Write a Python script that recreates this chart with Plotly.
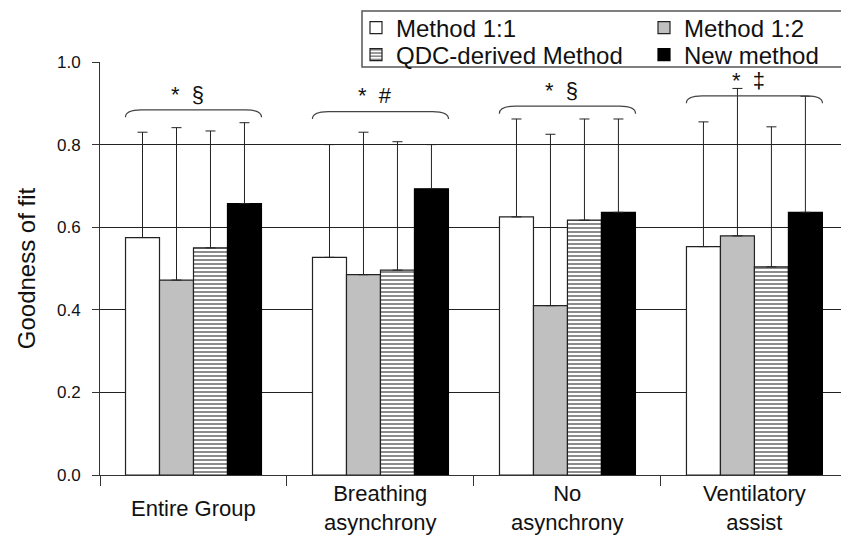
import plotly.graph_objects as go

categories = ["Entire Group", "Breathing<br>asynchrony", "No<br>asynchrony", "Ventilatory<br>assist"]
series_names = ["Method 1:1", "Method 1:2", "QDC-derived Method", "New method"]
method_11 = [0.575, 0.527, 0.625, 0.553]
method_12 = [0.472, 0.485, 0.410, 0.579]
qdc_method = [0.550, 0.496, 0.617, 0.504]
new_method = [0.657, 0.693, 0.636, 0.636]
err_11 = [0.255, 0.273, 0.237, 0.302]
err_12 = [0.369, 0.345, 0.415, 0.357]
err_qdc = [0.283, 0.311, 0.245, 0.339]
err_new = [0.196, 0.107, 0.226, 0.281]
sig_labels = ["*  §", "*  #", "*  §", "*  ‡"]
brace_levels = [0.884, 0.880, 0.893, 0.918]
y_ticks = [0.0, 0.2, 0.4, 0.6, 0.8, 1.0]

values = [method_11, method_12, qdc_method, new_method]
errors = [err_11, err_12, err_qdc, err_new]
legend_ids = ["legend2", "legend3", "legend4", "legend5"]
styles = [
    dict(color="white", line=dict(color="#222", width=1.2)),
    dict(color="#c0c0c0", line=dict(color="#222", width=1.2)),
    dict(color="white", line=dict(color="#222", width=1.2),
         pattern=dict(shape="-", fgcolor="black", bgcolor="white", size=4, solidity=0.45)),
    dict(color="black", line=dict(color="black", width=1.2)),
]

FONT = "Liberation Sans, Arial, sans-serif"
fig = go.Figure()
for name, v, e, st, lg in zip(series_names, values, errors, styles, legend_ids):
    fig.add_trace(go.Bar(
        x=categories, y=v, name=name, marker=st, legend=lg,
        error_y=dict(type="data", array=e, arrayminus=[0]*len(e), symmetric=False,
                     color="#222", thickness=1, width=5),
    ))

bar_half = 0.364
dx = 0.085
dy = 0.018
shapes = []
annotations = []
for i, (lab, lev) in enumerate(zip(sig_labels, brace_levels)):
    x0 = i - bar_half
    x1 = i + bar_half
    path = (f"M {x0},{lev-dy} Q {x0},{lev} {x0+dx},{lev} "
            f"L {x1-dx},{lev} Q {x1},{lev} {x1},{lev-dy}")
    shapes.append(dict(type="path", path=path, xref="x2", yref="y",
                       line=dict(color="#444", width=1.2)))
    annotations.append(dict(x=i - 0.03, y=lev + 0.003, xref="x2", yref="y", text=lab,
                            showarrow=False, yanchor="bottom",
                            font=dict(family=FONT, size=22, color="#111")))

# category labels, vertically centred under each group
for cat in categories:
    annotations.append(dict(x=cat, xref="x", y=-(508 - 475) / 413, yref="paper", text=cat,
                            showarrow=False, yanchor="middle", xanchor="center",
                            font=dict(family=FONT, size=22, color="#111")))

# legend frame (white, hides the top gridline like the reference)
shapes.append(dict(type="rect", xref="paper", yref="paper",
                   x0=(362 - 100) / 741, x1=1.02, y0=(475 - 67) / 413, y1=(475 - 11) / 413,
                   line=dict(color="#555", width=1.5), fillcolor="white", layer="above"))

leg_common = dict(orientation="v", yanchor="middle", xanchor="left",
                  bgcolor="rgba(0,0,0,0)", borderwidth=0,
                  font=dict(family=FONT, size=24, color="#111"),
                  itemwidth=30, tracegroupgap=0)
row1 = (475 - 28) / 413
row2 = (475 - 55) / 413
col1 = (356 - 100) / 741
col2 = (644 - 100) / 741

xr = [-0.5, 3.463]
fig.update_layout(
    width=841, height=543,
    margin=dict(l=100, r=0, t=62, b=68),
    paper_bgcolor="white", plot_bgcolor="white",
    barmode="group", bargap=0.273, bargroupgap=0,
    font=dict(family=FONT, color="#111"),
    shapes=shapes, annotations=annotations,
    legend2=dict(x=col1, y=row1, **leg_common),
    legend3=dict(x=col2, y=row1, **leg_common),
    legend4=dict(x=col1, y=row2, **leg_common),
    legend5=dict(x=col2, y=row2, **leg_common),
    xaxis=dict(range=xr, tickson="boundaries", ticks="outside", ticklen=10,
               tickcolor="#333", showline=True, linecolor="#333", linewidth=1,
               showticklabels=False, showgrid=False, automargin=False),
    xaxis2=dict(range=xr, overlaying="x", visible=False, showgrid=False),
    yaxis=dict(range=[0, 1], tickvals=y_ticks, tickformat=".1f", ticks="outside",
               ticklen=7, tickcolor="#333", showline=True, linecolor="#333",
               showgrid=True, gridcolor="#222", gridwidth=1, zeroline=False,
               automargin=False, ticklabelstandoff=8,
               tickfont=dict(family=FONT, size=17, color="#111"),
               title=dict(text="Goodness of fit", font=dict(family=FONT, size=24, color="#111"),
                          standoff=14)),
)
fig.write_html("out.html", config={"displayModeBar": False})

with open("out.html", "r", encoding="utf-8") as f:
    html = f.read()
html = html.replace("<body>", '<body style="margin:0;padding:0;overflow:hidden;">', 1)
with open("out.html", "w", encoding="utf-8") as f:
    f.write(html)
